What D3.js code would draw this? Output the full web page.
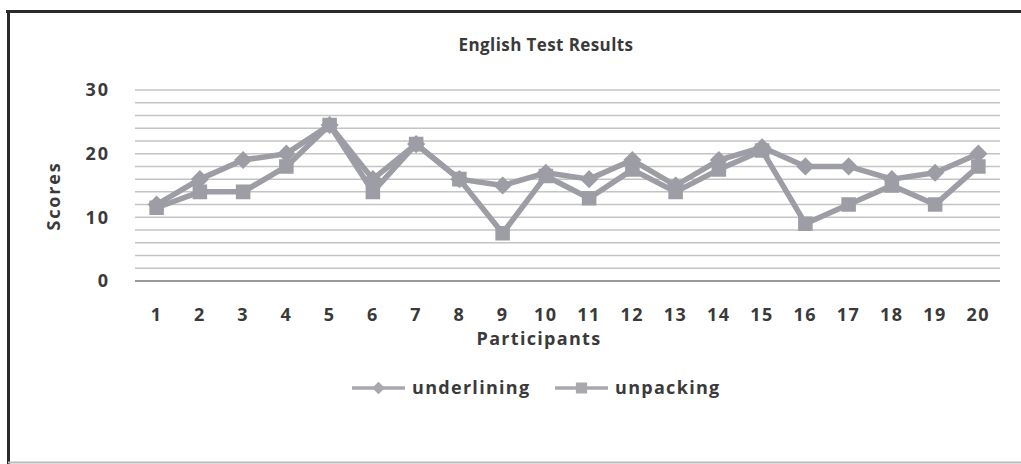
<!DOCTYPE html>
<html>
<head>
<meta charset="utf-8">
<script src="https://cdn.jsdelivr.net/npm/d3@7"></script>
<style>
  body { margin: 0; background: #fff; }
  svg text { font-family: "Open Sans", Lato, sans-serif; font-weight: bold; fill: #3a3a3a; }
</style>
</head>
<body>
<div id="chart"></div>
<script>
const participants = d3.range(1, 21).map(String);
const underlining = [12, 16, 19, 20, 24.5, 16, 21.5, 16, 15, 17, 16, 19, 15, 19, 21, 18, 18, 16, 17, 20];
const unpacking   = [11.5, 14, 14, 18, 24.5, 14, 21.5, 16, 7.5, 16.5, 13, 17.5, 14, 17.5, 20.5, 9, 12, 15, 12, 18];
const yTicks = [0, 10, 20, 30];
const seriesNames = ["underlining", "unpacking"];

const width = 1021, height = 464;
const margin = { top: 90, right: 21, bottom: 183, left: 135 };
const lineColor = "#9d9da5";

const svg = d3.select("#chart").append("svg")
    .attr("width", width)
    .attr("height", height);

// frame (scanned border)
svg.append("line").attr("x1", 6).attr("x2", width).attr("y1", 11.5).attr("y2", 11.5)
    .attr("stroke", "#2a2a2a").attr("stroke-width", 3);
svg.append("line").attr("x1", 8.5).attr("x2", 8.5).attr("y1", 10).attr("y2", height)
    .attr("stroke", "#2a2a2a").attr("stroke-width", 3);
svg.append("line").attr("x1", 8).attr("x2", width).attr("y1", 462.5).attr("y2", 462.5)
    .attr("stroke", "#bbb").attr("stroke-width", 2);

const x = d3.scaleBand()
    .domain(participants)
    .range([margin.left, width - margin.right]);

const y = d3.scaleLinear()
    .domain([0, 30])
    .range([height - margin.bottom, margin.top]);

// gridlines every 2
svg.append("g")
    .selectAll("line")
    .data(d3.range(0, 31, 2))
    .enter().append("line")
    .attr("x1", margin.left)
    .attr("x2", width - margin.right)
    .attr("y1", d => y(d))
    .attr("y2", d => y(d))
    .attr("stroke", d => d === 0 ? "#999" : "#c4c4c4")
    .attr("stroke-width", d => d === 0 ? 2 : 1.5);

// y axis labels
const yAxis = svg.append("g")
    .attr("transform", "translate(" + margin.left + ",0)")
    .call(d3.axisLeft(y).tickValues(yTicks).tickSize(0).tickPadding(25));
yAxis.select(".domain").remove();
yAxis.selectAll("text").attr("font-size", 18).attr("letter-spacing", 2).style("font-family", null);

// x axis labels
const xAxis = svg.append("g")
    .attr("transform", "translate(0," + (height - margin.bottom) + ")")
    .call(d3.axisBottom(x).tickSize(0).tickPadding(27));
xAxis.select(".domain").remove();
xAxis.selectAll("text").attr("font-size", 18).attr("letter-spacing", 1.5).style("font-family", null);

// titles
svg.append("text")
    .attr("x", 546).attr("y", 51)
    .attr("text-anchor", "middle")
    .attr("font-size", 17)
    .attr("font-weight", 600)
    .attr("letter-spacing", 0.4)
    .text("English Test Results");

svg.append("text")
    .attr("x", 539).attr("y", 345)
    .attr("text-anchor", "middle")
    .attr("font-size", 18)
    .attr("letter-spacing", 1.3)
    .text("Participants");

svg.append("text")
    .attr("transform", "translate(60,196) rotate(-90)")
    .attr("text-anchor", "middle")
    .attr("font-size", 18)
    .attr("letter-spacing", 1.8)
    .text("Scores");

// lines and markers
const line = d3.line()
    .x((d, i) => x(participants[i]) + x.bandwidth() / 2)
    .y(d => y(d));

const diamond = d3.symbol().type(d3.symbolDiamond2).size(150);
const square = d3.symbol().type(d3.symbolSquare2).size(200);

function drawSeries(values, sym) {
    svg.append("path")
        .datum(values)
        .attr("d", line)
        .attr("fill", "none")
        .attr("stroke", lineColor)
        .attr("stroke-width", 5.5)
        .attr("stroke-linejoin", "round");
    svg.append("g")
        .selectAll("path")
        .data(values)
        .enter().append("path")
        .attr("d", sym)
        .attr("transform", (d, i) => "translate(" + (x(participants[i]) + x.bandwidth() / 2) + "," + y(d) + ")")
        .attr("fill", lineColor)
        .attr("stroke", lineColor)
        .attr("stroke-width", 2);
}
drawSeries(underlining, diamond);
drawSeries(unpacking, square);

// legend
const legendSymDiamond = d3.symbol().type(d3.symbolDiamond2).size(70);
const legendSymSquare = d3.symbol().type(d3.symbolSquare2).size(120);
const legendItems = [
    { name: seriesNames[0], sym: legendSymDiamond, x: 352 },
    { name: seriesNames[1], sym: legendSymSquare, x: 555 }
];
const legend = svg.append("g").attr("transform", "translate(0,388)");
legendItems.forEach(item => {
    legend.append("line")
        .attr("x1", item.x).attr("x2", item.x + 53)
        .attr("stroke", "#a8a8ae").attr("stroke-width", 3.5);
    legend.append("path")
        .attr("d", item.sym)
        .attr("transform", "translate(" + (item.x + 26.5) + ",0)")
        .attr("fill", "#a8a8ae").attr("stroke", "#a8a8ae").attr("stroke-width", 1.5);
    legend.append("text")
        .attr("x", item.x + 60)
        .attr("dy", "0.35em")
        .attr("font-size", 18)
        .attr("letter-spacing", 1.3)
        .text(item.name);
});
</script>
</body>
</html>
